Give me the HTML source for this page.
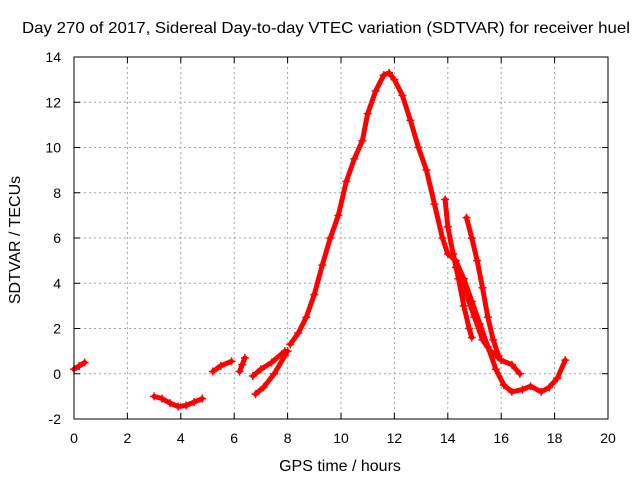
<!DOCTYPE html>
<html><head><meta charset="utf-8"><style>
body{margin:0;background:#fff}
svg{display:block;font-family:"Liberation Sans",sans-serif}
</style></head><body>
<svg id="c" width="640" height="480">
<text x="22" y="33" font-size="16" textLength="608" lengthAdjust="spacingAndGlyphs">Day 270 of 2017, Sidereal Day-to-day VTEC variation (SDTVAR) for receiver huel</text>
<text x="340" y="471" text-anchor="middle" font-size="16">GPS time / hours</text>
<text x="20" y="240" text-anchor="middle" font-size="16" transform="rotate(-90 20 240)">SDTVAR / TECUs</text>
<g id="grid"></g><g id="ticks"></g><g id="series"></g>
<rect x="74" y="57" width="534" height="362" fill="none" stroke="#000" stroke-width="1"/>
</svg>
<script>
const xTicks=[0,2,4,6,8,10,12,14,16,18,20];
const yTicks=[-2,0,2,4,6,8,10,12,14];
const seg1=[[0,0.2],[0.2,0.35],[0.4,0.5]];
const seg2=[[3.0,-1.0],[3.3,-1.1],[3.6,-1.3],[3.9,-1.45],[4.2,-1.4],[4.5,-1.25],[4.8,-1.1]];
const seg3=[[5.2,0.1],[5.5,0.35],[5.9,0.55]];
const seg4=[[6.2,0.1],[6.3,0.4],[6.4,0.7]];
const seg5=[[6.7,-0.1],[7.0,0.2],[7.4,0.5],[7.9,1.0]];
const seg6=[[6.8,-0.9],[7.1,-0.6],[7.5,0.0],[7.9,0.8],[8.0,1.0]];
const segMain=[[8.1,1.3],[8.4,1.8],[8.7,2.5],[9.0,3.5],[9.3,4.8],[9.6,6.0],[9.9,7.0],[10.2,8.5],[10.5,9.5],[10.8,10.3],[11.0,11.5],[11.3,12.5],[11.6,13.2],[11.8,13.3],[12.0,13.0],[12.3,12.3],[12.6,11.2],[12.9,10.0],[13.2,9.0],[13.5,7.5],[13.8,6.0],[14.0,5.3],[14.3,5.0],[14.6,4.2],[14.9,3.2],[15.2,2.2],[15.5,1.2],[15.8,0.2],[16.1,-0.5],[16.4,-0.8],[16.8,-0.7],[17.1,-0.55],[17.5,-0.8],[17.8,-0.6],[18.1,-0.2],[18.4,0.6]];
const seg8=[[14.3,4.7],[14.6,3.8],[15.0,2.5],[15.3,1.5],[15.6,1.0],[16.0,0.6],[16.4,0.4],[16.7,0.0]];
const seg9=[[13.9,7.7],[14.0,6.5],[14.2,5.3],[14.4,4.2],[14.6,3.0],[14.8,2.0],[14.9,1.6]];
const seg10=[[14.7,6.9],[14.9,6.0],[15.1,5.0],[15.3,3.8],[15.5,2.5],[15.7,1.5],[15.9,0.8]];
const segments=[seg1,seg2,seg3,seg4,seg5,seg6,segMain,seg8,seg9,seg10];

const NS="http://www.w3.org/2000/svg";
const X=h=>74+h*534/20, Y=v=>57+(14-v)*362/16;
const grid=document.getElementById('grid'),ticks=document.getElementById('ticks'),ser=document.getElementById('series');
function mk(t,a,p){const e=document.createElementNS(NS,t);for(const k in a)e.setAttribute(k,a[k]);p.appendChild(e);return e;}
xTicks.forEach(t=>{
  const x=X(t);
  if(t>0&&t<20){const g=mk('line',{x1:x,x2:x,y1:57,y2:419,stroke:'#a0a0a0','stroke-dasharray':'2,3'},grid);
  
  }
  mk('line',{x1:x,x2:x,y1:419,y2:413,stroke:'#000'},ticks);
  mk('line',{x1:x,x2:x,y1:57,y2:63,stroke:'#000'},ticks);
  const l=mk('text',{x:x,y:443,'text-anchor':'middle','font-size':14},ticks);l.textContent=t;
  
  
});
yTicks.forEach(t=>{
  const y=Y(t);
  if(t>-2&&t<14){const g=mk('line',{x1:74,x2:608,y1:y,y2:y,stroke:'#a0a0a0','stroke-dasharray':'2,3'},grid);
  
  }
  mk('line',{x1:74,x2:80,y1:y,y2:y,stroke:'#000'},ticks);
  mk('line',{x1:602,x2:608,y1:y,y2:y,stroke:'#000'},ticks);
  const l=mk('text',{x:61,y:y+5,'text-anchor':'end','font-size':14},ticks);l.textContent=t;
  
  
});
segments.forEach(s=>{
  const pl=mk('polyline',{points:s.map(p=>X(p[0])+','+Y(p[1])).join(' '),fill:'none',stroke:'#f00','stroke-width':5,'stroke-linejoin':'round','stroke-linecap':'round'},ser);
  
  
  s.forEach(p=>{
    const x=X(p[0]),y=Y(p[1]);
    const m=mk('path',{d:`M${x-4},${y}H${x+4}M${x},${y-4}V${y+4}`,stroke:'#f00','stroke-width':1.5},ser);
    
    
  });
});
</script>
</body></html>
